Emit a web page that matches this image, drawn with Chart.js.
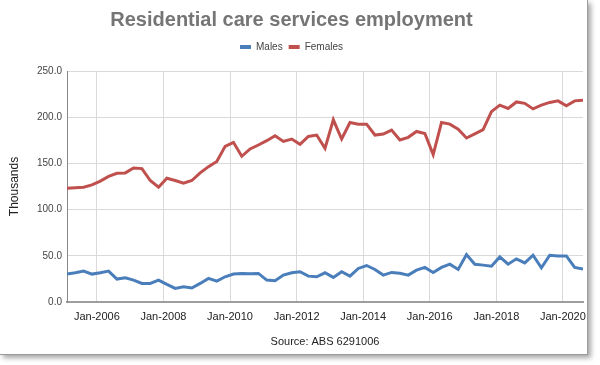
<!DOCTYPE html>
<html>
<head>
<meta charset="utf-8">
<script src="https://cdn.jsdelivr.net/npm/chart.js@4"></script>
<style>
  html, body { margin: 0; padding: 0; background: #ffffff; }
  #frame { position: absolute; left: 0; top: 0; width: 587px; height: 354px; background: #fff;
           border-right: 1px solid #9a9a9a; border-bottom: 1px solid #9a9a9a;
           box-shadow: 3px 3px 5px rgba(0,0,0,0.35); }
  #wrap { position: absolute; left: 0; top: 0; width: 600px; height: 365px; }
</style>
</head>
<body>
<div id="frame"></div>
<div id="wrap"><canvas id="c" width="600" height="365"></canvas></div>
<script>
// Quarterly periods (Feb/May/Aug/Nov), Feb-2005 .. Aug-2020
const periods = [
  "2005-02","2005-05","2005-08","2005-11",
  "2006-02","2006-05","2006-08","2006-11",
  "2007-02","2007-05","2007-08","2007-11",
  "2008-02","2008-05","2008-08","2008-11",
  "2009-02","2009-05","2009-08","2009-11",
  "2010-02","2010-05","2010-08","2010-11",
  "2011-02","2011-05","2011-08","2011-11",
  "2012-02","2012-05","2012-08","2012-11",
  "2013-02","2013-05","2013-08","2013-11",
  "2014-02","2014-05","2014-08","2014-11",
  "2015-02","2015-05","2015-08","2015-11",
  "2016-02","2016-05","2016-08","2016-11",
  "2017-02","2017-05","2017-08","2017-11",
  "2018-02","2018-05","2018-08","2018-11",
  "2019-02","2019-05","2019-08","2019-11",
  "2020-02","2020-05","2020-08"
];
const males = [
  30.2, 31.6, 33.4, 30.2, 31.6, 33.4, 24.8, 26.2, 23.7, 20.1,
  20.1, 23.7, 19.0, 14.7, 16.5, 15.1, 20.1, 25.5, 22.6, 27.3,
  30.2, 30.9, 30.5, 30.9, 23.7, 23.0, 29.1, 31.6, 32.7, 28.0,
  27.3, 31.6, 26.6, 32.7, 28.0, 36.3, 39.5, 35.2, 29.1, 32.0,
  31.2, 29.1, 34.5, 37.4, 32.0, 37.4, 40.9, 35.2, 51.4, 40.9,
  39.9, 38.8, 48.8, 40.9, 46.7, 42.3, 50.6, 37.0, 50.6, 49.9,
  49.9, 37.4, 35.6
];
const females = [
  123.0, 123.6, 124.3, 126.8, 130.8, 136.0, 139.3, 139.7, 145.0, 144.4,
  131.5, 124.3, 134.0, 131.5, 128.6, 131.5, 139.7, 146.5, 152.0, 168.4,
  172.8, 157.7, 165.6, 169.9, 174.6, 180.0, 173.8, 176.4, 170.6, 179.2,
  180.7, 166.3, 197.2, 176.4, 194.3, 192.5, 192.5, 180.7, 181.8, 186.0,
  175.3, 178.2, 184.6, 182.4, 159.5, 194.3, 192.5, 187.0, 177.5, 182.0,
  186.5, 206.0, 213.0, 209.5, 216.5, 215.0, 209.0, 213.0, 216.0, 217.7,
  212.3, 217.7, 218.4
];
const xTickYears = [2006, 2008, 2010, 2012, 2014, 2016, 2018, 2020];
const yTicks = [0, 50, 100, 150, 200, 250];

const toYear = p => { const [y, m] = p.split("-").map(Number); return y + (m - 1) / 12 + 0.02; };
const xs = periods.map(toYear);
const pts = arr => arr.map((v, i) => ({ x: xs[i], y: v }));

const BLUE = "#4a7ebb";
const RED = "#c0504d";
const GRID = "#d9d9d9";
const FONT = "Liberation Sans, Arial, sans-serif";

new Chart(document.getElementById("c"), {
  type: "line",
  data: {
    datasets: [
      { label: "Males", data: pts(males), borderColor: BLUE, backgroundColor: BLUE,
        borderWidth: 3, pointRadius: 0, tension: 0 },
      { label: "Females", data: pts(females), borderColor: RED, backgroundColor: RED,
        borderWidth: 3, pointRadius: 0, tension: 0 }
    ]
  },
  options: {
    responsive: false,
    animation: false,
    layout: { padding: { left: 0, right: 17, top: 0, bottom: 0 } },
    plugins: {
      tooltip: { enabled: false },
      title: {
        display: true,
        text: "Residential care services employment",
        color: "#757575",
        font: { family: FONT, size: 20, weight: "bold" },
        padding: { top: 8, bottom: 4 }
      },
      subtitle: {
        display: true,
        text: " ",
        weight: 500,
        font: { family: FONT, size: 10, lineHeight: 0.9 },
        padding: { top: 0, bottom: 0 }
      },
      legend: {
        display: true,
        position: "top",
        labels: {
          color: "#444",
          font: { family: FONT, size: 10 },
          boxWidth: 11,
          boxHeight: 4,
          padding: 6,
          generateLabels: (chart) => Chart.defaults.plugins.legend.labels.generateLabels(chart)
            .map(l => Object.assign(l, { lineWidth: 0 }))
        }
      }
    },
    scales: {
      x: {
        type: "linear",
        min: xs[0],
        max: xs[xs.length - 1],
        afterBuildTicks: (s) => { s.ticks = xTickYears.map(v => ({ value: v })); },
        afterFit: (s) => { s.height = 63; },
        ticks: {
          autoSkip: false, maxRotation: 0, padding: 8,
          color: "#222",
          font: { family: FONT, size: 11 },
          callback: (v) => "Jan-" + v
        },
        grid: { color: GRID, drawTicks: false },
        border: { color: "#9e9e9e", width: 2 },
        title: {
          display: true, text: "Source: ABS 6291006", color: "#222",
          font: { family: FONT, size: 11 },
          padding: { top: 8, bottom: 16 }
        }
      },
      y: {
        min: 0, max: 250,
        afterBuildTicks: (s) => { s.ticks = yTicks.map(v => ({ value: v })); },
        afterFit: (s) => { s.width = 67; },
        ticks: {
          padding: 5, color: "#444",
          font: { family: FONT, size: 10 },
          callback: (v) => Number(v).toFixed(1)
        },
        grid: { color: GRID, drawTicks: false },
        border: { color: "#888", width: 1 },
        title: {
          display: true, text: "Thousands", color: "#222",
          font: { family: FONT, size: 12 },
          padding: { top: 7, bottom: 8 }
        }
      }
    }
  }
});
</script>
</body>
</html>
